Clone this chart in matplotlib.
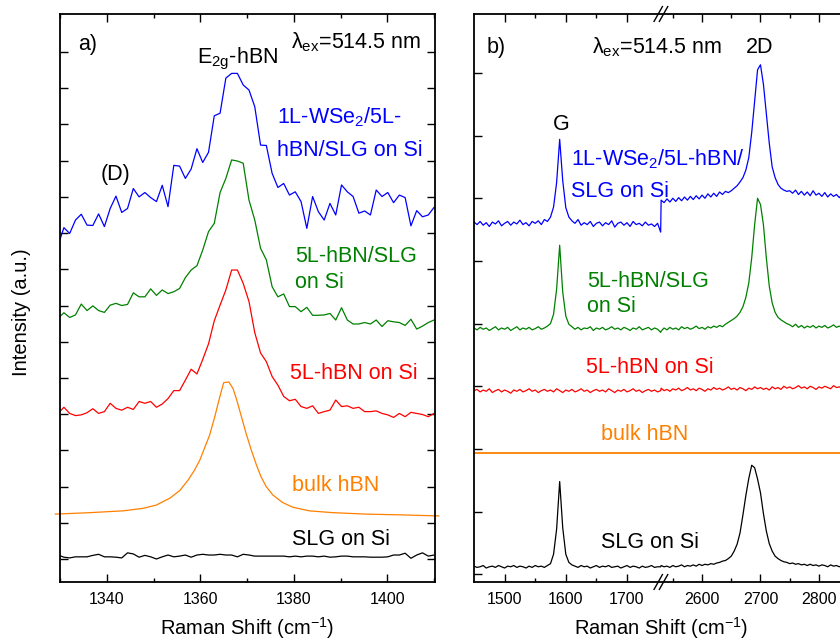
import numpy as np
import matplotlib
matplotlib.use("Agg")
import matplotlib.pyplot as plt
from matplotlib.ticker import FixedLocator, NullFormatter, MultipleLocator

plt.rcParams['font.family'] = ['Liberation Sans', 'DejaVu Sans']
plt.rcParams['mathtext.fontset'] = 'custom'
plt.rcParams['mathtext.rm'] = 'Liberation Sans'
plt.rcParams['mathtext.it'] = 'Liberation Sans:italic'
plt.rcParams['mathtext.default'] = 'regular'

# ---------------- panel a) : E2g region ----------------
shift_a = np.linspace(1329.6, 1410.0, 66)
blue_a = [8.67, 9.15, 8.99, 9.36, 9.52, 9.22, 9.21, 9.53, 9.18, 9.68,
          10.02, 9.57, 9.68, 10.23, 10.00, 10.12, 9.98, 9.87, 10.32, 9.73,
          10.87, 10.85, 10.51, 10.77, 11.33, 10.95, 11.23, 12.24, 12.31, 13.28,
          13.41, 13.41, 13.09, 12.95, 12.49, 11.43, 11.42, 10.65, 10.26, 10.37,
          10.05, 10.14, 9.87, 9.13, 10.01, 9.59, 9.36, 9.82, 9.50, 10.33,
          10.14, 10.01, 9.55, 9.61, 9.50, 10.19, 10.01, 10.12, 9.84, 10.05,
          9.98, 9.20, 9.62, 9.45, 9.50, 9.71]
green_a = [6.65, 6.80, 6.67, 6.74, 7.04, 6.86, 6.99, 6.86, 6.81, 7.01,
           7.06, 7.00, 7.03, 7.35, 7.24, 7.24, 7.46, 7.28, 7.43, 7.33,
           7.38, 7.47, 7.77, 7.98, 8.10, 8.53, 9.04, 9.27, 10.12, 10.51,
           11.02, 10.99, 10.93, 9.91, 9.36, 8.58, 8.26, 7.52, 7.24, 7.32,
           6.97, 6.97, 6.83, 6.95, 6.73, 6.73, 6.74, 6.78, 6.60, 6.94,
           6.60, 6.49, 6.49, 6.53, 6.49, 6.60, 6.42, 6.58, 6.55, 6.53,
           6.45, 6.62, 6.35, 6.43, 6.53, 6.60]
red_a = [4.02, 4.19, 4.02, 3.96, 3.98, 4.04, 4.15, 4.02, 4.07, 4.30,
         4.16, 4.11, 4.19, 4.13, 4.35, 4.30, 4.35, 4.19, 4.28, 4.43,
         4.65, 4.65, 4.94, 5.24, 5.11, 5.51, 5.94, 6.58, 7.01, 7.43,
         7.98, 7.98, 7.61, 7.11, 6.25, 5.69, 5.45, 5.04, 4.80, 4.49,
         4.37, 4.41, 4.21, 4.16, 4.23, 4.02, 4.07, 4.11, 4.39, 4.21,
         4.23, 4.16, 4.19, 4.07, 4.07, 4.09, 4.02, 3.98, 3.91, 4.02,
         3.93, 4.05, 4.02, 3.99, 3.93, 4.02]
black_a = [0.11, 0.05, 0.03, 0.06, 0.06, 0.06, 0.10, 0.13, 0.06, 0.06,
           0.05, 0.03, 0.17, 0.14, 0.05, 0.10, 0.06, 0.00, 0.06, 0.11,
           0.06, 0.08, 0.11, 0.05, 0.11, 0.13, 0.11, 0.11, 0.13, 0.11,
           0.11, 0.06, 0.13, 0.11, 0.08, 0.08, 0.08, 0.08, 0.08, 0.08,
           0.06, 0.08, 0.06, 0.08, 0.08, 0.06, 0.08, 0.05, 0.06, 0.08,
           0.08, 0.06, 0.06, 0.06, 0.05, 0.05, 0.05, 0.06, 0.11, 0.11,
           0.16, 0.02, 0.11, 0.17, 0.08, 0.11]
bulk_x = [1329.0, 1336.4, 1343.5, 1347.8, 1350.6, 1353.5, 1355.6, 1357.4, 1358.8, 1359.9,
          1360.9, 1362.0, 1363.1, 1364.1, 1365.0, 1366.1, 1367.0, 1367.8, 1368.8, 1369.8,
          1370.9, 1372.0, 1373.0, 1374.1, 1375.5, 1377.6, 1379.8, 1383.3, 1388.3, 1395.4,
          1402.5, 1411.0]
bulk_a = [1.24, 1.28, 1.33, 1.40, 1.49, 1.68, 1.89, 2.18, 2.46, 2.73,
          3.06, 3.42, 3.93, 4.44, 4.87, 4.89, 4.71, 4.39, 3.93, 3.47,
          3.01, 2.60, 2.27, 2.00, 1.77, 1.56, 1.43, 1.33, 1.28, 1.24,
          1.22, 1.19]

# ---------------- panel b) : G and 2D region (broken axis) ----------------
shift_lo = np.arange(1450, 1756, 5)
shift_hi = np.arange(2530, 2861, 5)
blue_lo = [5.62, 5.58, 5.63, 5.57, 5.61, 5.55, 5.62, 5.59, 5.64, 5.56,
           5.60, 5.63, 5.57, 5.62, 5.59, 5.65, 5.58, 5.61, 5.56, 5.63,
           5.60, 5.64, 5.58, 5.66, 5.63, 5.70, 5.86, 6.25, 6.94, 6.28,
           5.85, 5.70, 5.64, 5.60, 5.66, 5.57, 5.61, 5.58, 5.63, 5.55,
           5.60, 5.62, 5.56, 5.61, 5.58, 5.64, 5.54, 5.60, 5.62, 5.57,
           5.61, 5.55, 5.63, 5.58, 5.60, 5.56, 5.62, 5.57, 5.59, 5.55,
           5.60, 5.46]
blue_hi = [5.97, 5.93, 5.99, 5.94, 6.00, 5.95, 6.01, 5.96, 6.02, 5.97,
           6.03, 5.98, 6.04, 5.99, 6.05, 6.00, 6.07, 6.02, 6.08, 6.03,
           6.10, 6.06, 6.11, 6.09, 6.12, 6.16, 6.20, 6.26, 6.33, 6.45,
           6.65, 7.05, 7.55, 8.05, 8.13, 7.82, 7.35, 6.88, 6.50, 6.33,
           6.22, 6.16, 6.13, 6.11, 6.12, 6.08, 6.13, 6.06, 6.11, 6.05,
           6.10, 6.04, 6.12, 6.05, 6.08, 6.03, 6.09, 6.02, 6.07, 6.03,
           6.06, 6.01, 6.07, 6.02, 6.05, 6.00, 6.04]
green_lo = [3.93, 3.90, 3.94, 3.91, 3.93, 3.89, 3.92, 3.95, 3.90, 3.93,
            3.91, 3.94, 3.89, 3.92, 3.95, 3.90, 3.93, 3.91, 3.94, 3.90,
            3.92, 3.95, 3.91, 3.93, 3.96, 4.00, 4.15, 4.55, 5.25, 4.50,
            4.12, 3.99, 3.95, 3.91, 3.94, 3.90, 3.93, 3.92, 3.95, 3.89,
            3.93, 3.91, 3.94, 3.90, 3.92, 3.95, 3.91, 3.93, 3.90, 3.94,
            3.92, 3.89, 3.93, 3.91, 3.95, 3.90, 3.92, 3.94, 3.90, 3.93,
            3.91, 3.86]
green_hi = [3.88, 3.93, 3.90, 3.94, 3.91, 3.93, 3.90, 3.95, 3.92, 3.94,
            3.91, 3.93, 3.96, 3.92, 3.94, 3.91, 3.95, 3.93, 3.96, 3.94,
            3.97, 3.95, 3.99, 4.02, 4.05, 4.08, 4.12, 4.18, 4.27, 4.42,
            4.65, 5.05, 5.58, 6.00, 5.90, 5.58, 5.05, 4.60, 4.33, 4.18,
            4.10, 4.06, 4.03, 4.00, 3.98, 3.95, 3.99, 3.94, 3.97, 3.93,
            3.96, 3.94, 3.97, 3.93, 3.96, 3.94, 3.97, 3.93, 3.95, 3.98,
            3.94, 3.96, 3.93, 3.97, 3.94, 3.96, 3.95]
red_lo = [2.93, 2.95, 2.91, 2.94, 2.92, 2.96, 2.90, 2.93, 2.95, 2.91,
          2.94, 2.92, 2.89, 2.94, 2.92, 2.95, 2.91, 2.93, 2.96, 2.92,
          2.94, 2.90, 2.93, 2.95, 2.92, 2.94, 2.91, 2.96, 2.93, 2.90,
          2.94, 2.92, 2.95, 2.91, 2.93, 2.96, 2.92, 2.94, 2.90, 2.93,
          2.95, 2.92, 2.94, 2.91, 2.96, 2.93, 2.90, 2.94, 2.92, 2.95,
          2.91, 2.93, 2.96, 2.92, 2.94, 2.90, 2.93, 2.95, 2.92, 2.94,
          2.91, 2.93]
red_hi = [2.97, 2.93, 2.95, 2.92, 2.96, 2.94, 2.97, 2.93, 2.95, 2.98,
          2.94, 2.96, 2.93, 2.97, 2.95, 2.92, 2.96, 2.94, 2.98, 2.95,
          2.97, 2.94, 2.96, 2.99, 2.95, 2.97, 2.94, 2.98, 2.96, 2.93,
          2.97, 2.95, 2.99, 2.96, 2.98, 2.95, 2.97, 2.94, 2.99, 2.96,
          2.98, 2.95, 3.00, 2.97, 2.99, 2.96, 2.98, 3.01, 2.97, 2.99,
          2.96, 3.00, 2.98, 2.95, 2.99, 2.97, 3.00, 2.98, 2.96, 3.01,
          2.98, 2.99, 2.97, 3.00, 2.98, 3.01, 2.99]
bulk_b_x = [1450, 1755, 2530, 2860]
bulk_b = [1.93, 1.93, 1.93, 1.93]
black_lo = [0.13, 0.11, 0.12, 0.14, 0.10, 0.12, 0.13, 0.11, 0.14, 0.12,
            0.10, 0.13, 0.12, 0.14, 0.11, 0.13, 0.12, 0.10, 0.13, 0.11,
            0.14, 0.12, 0.13, 0.11, 0.14, 0.17, 0.32, 0.72, 1.48, 0.74,
            0.32, 0.19, 0.15, 0.13, 0.11, 0.14, 0.12, 0.13, 0.10, 0.12,
            0.14, 0.11, 0.13, 0.12, 0.14, 0.11, 0.12, 0.13, 0.10, 0.12,
            0.14, 0.11, 0.13, 0.12, 0.10, 0.13, 0.11, 0.12, 0.14, 0.11,
            0.12, 0.12]
black_hi = [0.14, 0.12, 0.13, 0.11, 0.14, 0.12, 0.13, 0.15, 0.12, 0.14,
            0.13, 0.15, 0.13, 0.16, 0.14, 0.16, 0.15, 0.17, 0.16, 0.18,
            0.19, 0.21, 0.22, 0.25, 0.29, 0.37, 0.48, 0.66, 0.95, 1.26,
            1.53, 1.74, 1.70, 1.52, 1.30, 0.97, 0.69, 0.49, 0.37, 0.29,
            0.25, 0.22, 0.20, 0.19, 0.17, 0.18, 0.16, 0.17, 0.15, 0.16,
            0.14, 0.16, 0.14, 0.15, 0.13, 0.15, 0.14, 0.12, 0.15, 0.13,
            0.14, 0.12, 0.14, 0.13, 0.15, 0.12, 0.14]

BLUE, GREEN, RED, ORANGE = '#0000FF', '#008000', '#FF0000', '#FF8000'
W, H = 840, 642

# broken x axis for panel b
B1, B2, K, EPS = 1755.0, 2530.0, 0.955, 1e-3
GAP = (B2 - B1) * EPS


def fwd(x):
    x = np.asarray(x, float)
    return np.where(x <= B1, x,
                    np.where(x < B2, B1 + (x - B1) * EPS, B1 + GAP + (x - B2) * K))


def inv(u):
    u = np.asarray(u, float)
    return np.where(u <= B1, u,
                    np.where(u < B1 + GAP, B1 + (u - B1) / EPS, B2 + (u - B1 - GAP) / K))


def style(ax):
    for s in ax.spines.values():
        s.set_linewidth(1.3)
    ax.tick_params(which='both', direction='in', top=True, right=True,
                   labelleft=False, width=1.0, labelsize=11.5, pad=7)
    ax.tick_params(which='major', length=5.5)
    ax.tick_params(which='minor', length=3)


fig = plt.figure(figsize=(W / 100, H / 100), dpi=100)
bot, top = 1 - 582 / H, 1 - 14 / H

ax1 = fig.add_axes([60 / W, bot, 375 / W, top - bot])
ax1.plot(shift_a, blue_a, color=BLUE, lw=0.9)
ax1.plot(shift_a, green_a, color=GREEN, lw=0.9)
ax1.plot(shift_a, red_a, color=RED, lw=0.9)
ax1.plot(bulk_x, bulk_a, color=ORANGE, lw=0.9, clip_on=False)
ax1.plot(shift_a, black_a, color='black', lw=0.9)
ax1.set_xlim(1330, 1410.2)
ax1.set_ylim(-0.635, 15.05)
ax1.set_yticks(np.arange(0, 15))
ax1.xaxis.set_major_locator(MultipleLocator(20))
ax1.xaxis.set_minor_locator(MultipleLocator(10))
style(ax1)

ax2 = fig.add_axes([474 / W, bot, 380 / W, top - bot])
ax2.set_xscale('function', functions=(fwd, inv))
for lo, hi, c in [(blue_lo, blue_hi, BLUE), (green_lo, green_hi, GREEN),
                  (red_lo, red_hi, RED), (black_lo, black_hi, 'black')]:
    ax2.plot(np.r_[shift_lo, shift_hi], np.r_[lo, hi], color=c, lw=0.9)
ax2.plot(bulk_b_x, bulk_b, color=ORANGE, lw=1.3)
ax2.set_xlim(1450, 2860)
ax2.set_ylim(-0.123, 8.94)
ax2.set_yticks(np.arange(0, 9))
ax2.xaxis.set_major_locator(FixedLocator([1500, 1600, 1700, 2600, 2700, 2800]))
ax2.xaxis.set_minor_locator(FixedLocator([1550, 1650, 2550, 2650, 2750, 2850]))
ax2.xaxis.set_minor_formatter(NullFormatter())
ax2.set_xticklabels(['1500', '1600', '1700', '2600', '2700', '2800'])
style(ax2)

# break marks
u0, u1 = fwd(1450), fwd(2860)
xb = float((fwd(B1) + GAP / 2 - u0) / (u1 - u0))
for yb in (0, 1):
    for d in (-0.007, 0.007):
        ax2.plot([xb + d - 0.011, xb + d + 0.011], [yb - 0.013, yb + 0.013],
                 transform=ax2.transAxes, clip_on=False, color='black', lw=1.0)

# axis titles
for xc in (247.5, 661):
    fig.text(xc / W, 1 - 635 / H, 'Raman Shift (cm$^{-1}$)', ha='center',
             va='baseline', fontsize=14.5)
fig.text(22 / W, 1 - 312 / H, 'Intensity (a.u.)', rotation=90,
         ha='center', va='center', fontsize=14.5)


def put(x, y, s, c='black'):
    fig.text(x / W, 1 - y / H, s, color=c, fontsize=15.5, ha='left', va='baseline')


put(78, 50, 'a)')
put(291, 48, 'λ$_{ex}$=514.5 nm')
put(197, 63, 'E$_{2g}$-hBN')
put(101, 180, '(D)')
put(277, 123, '1L-WSe$_2$/5L-', BLUE)
put(277, 156, 'hBN/SLG on Si', BLUE)
put(295, 262, '5L-hBN/SLG', GREEN)
put(295, 288, 'on Si', GREEN)
put(290, 379, '5L-hBN on Si', RED)
put(292, 491, 'bulk hBN', ORANGE)
put(292, 545, 'SLG on Si')

put(487, 53, 'b)')
put(592, 53, 'λ$_{ex}$=514.5 nm')
put(746, 53, '2D')
put(553, 130, 'G')
put(571, 165, '1L-WSe$_2$/5L-hBN/', BLUE)
put(571, 197, 'SLG on Si', BLUE)
put(587, 287, '5L-hBN/SLG', GREEN)
put(587, 312, 'on Si', GREEN)
put(586, 373, '5L-hBN on Si', RED)
put(601, 440, 'bulk hBN', ORANGE)
put(601, 548, 'SLG on Si')

fig.savefig('out.png', dpi=100)
